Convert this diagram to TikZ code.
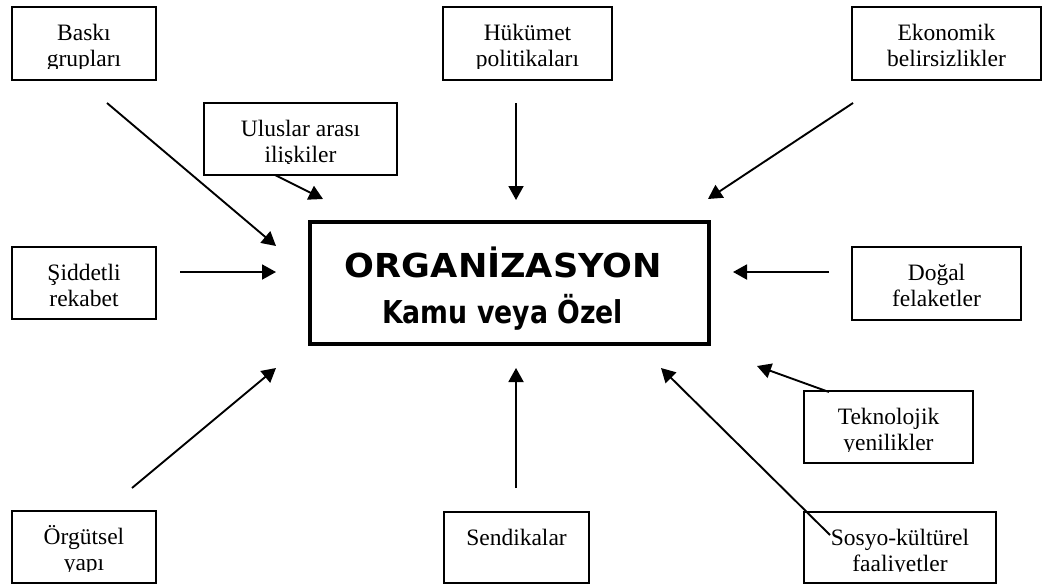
\documentclass[tikz,border=0pt]{standalone}
\usepackage{fontspec}
\usepackage{graphicx}
\setmainfont{Liberation Serif}
\newfontfamily\headfont{DejaVu Sans}
\usetikzlibrary{arrows.meta}

\tikzset{
  fbox/.style={draw, line width=1.3pt, inner sep=0pt, outer sep=0pt},
  ftext/.style={anchor=north, inner sep=0pt, align=center,
    font=\fontsize{23.5}{26.5}\selectfont},
  orgbox/.style={draw, line width=3.6pt, inner sep=0pt, outer sep=0pt},
  orgtext/.style={anchor=base, inner sep=0pt},
  infl/.style={line width=1.9pt, -{Triangle[length=14pt,width=15pt]}},
}

% factor box: name, centre x, centre y, width, height, text
% (the text frame stops short of the bottom border, cutting off descenders)
\newcommand\factor[6]{%
  \node[fbox, minimum width=#4pt, minimum height=#5pt] (#1) at (#2,#3) {};
  \begin{scope}
    \clip (#1.north west) rectangle ([yshift=11.5pt]#1.south east);
    \node[ftext, yshift=-13pt] (#1-text) at (#1.north) {\rule{0pt}{20pt}#6};
  \end{scope}
}

\begin{document}
\begin{tikzpicture}[x=1pt,y=-1pt]
\useasboundingbox (0,0) rectangle (1043,584);

% central organisation box
\node[orgbox, minimum width=399pt, minimum height=122pt] (org) at (509.5,283) {};
\node[orgtext] (orgtitle) at (503.5,277)
  {\resizebox{317pt}{\height}{\headfont\bfseries\fontsize{33}{36}\selectfont ORGANİZASYON}};
\node[orgtext] (orgsub) at (502.5,323)
  {\resizebox{241pt}{\height}{\headfont\bfseries\fontsize{31.5}{34}\selectfont Kamu veya Özel}};

% surrounding factors
\factor{baski}{84}{43.5}{144}{73}{Baskı\\grupları}
\factor{hukumet}{527.5}{43.5}{169}{73}{Hükümet\\politikaları}
\factor{ekonomi}{946.5}{43.5}{189}{73}{Ekonomik\\belirsizlikler}
\factor{ulus}{300.5}{139}{193}{72}{Uluslar arası\\ilişkiler}
\factor{rekabet}{84}{283}{144}{72}{Şiddetli\\rekabet}
\factor{dogal}{936.5}{283.5}{169}{73}{Doğal\\felaketler}
\factor{tekno}{888.5}{427}{169}{72}{Teknolojik\\yenilikler}
\factor{orgut}{84}{547}{144}{72}{Örgütsel\\yapı}
\factor{sendika}{516.5}{547.5}{145}{71}{Sendikalar}
\factor{sosyo}{900}{547.5}{192}{71}{Sosyo-kültürel\\faaliyetler}

% arrow end points
\coordinate (baski-s) at (107,103);   \coordinate (baski-e) at (276,246);
\coordinate (ulus-s) at (275,175);    \coordinate (ulus-e) at (323,199);
\coordinate (hukumet-s) at (516,103); \coordinate (hukumet-e) at (516,200);
\coordinate (ekonomi-s) at (853,103); \coordinate (ekonomi-e) at (708,199);
\coordinate (rekabet-s) at (180,272); \coordinate (rekabet-e) at (276,272);
\coordinate (dogal-s) at (829,272);   \coordinate (dogal-e) at (733,272);
\coordinate (tekno-s) at (829,392);   \coordinate (tekno-e) at (757,366);
\coordinate (sosyo-s) at (830,535);   \coordinate (sosyo-e) at (661,368);
\coordinate (sendika-s) at (516,488); \coordinate (sendika-e) at (516,368);
\coordinate (orgut-s) at (132,488);   \coordinate (orgut-e) at (276,368);

% influences on the organisation
\foreach \f in {baski,ulus,hukumet,ekonomi,rekabet,dogal,tekno,sosyo,sendika,orgut}
  \draw[infl] (\f-s) -- (\f-e);
\end{tikzpicture}
\end{document}
